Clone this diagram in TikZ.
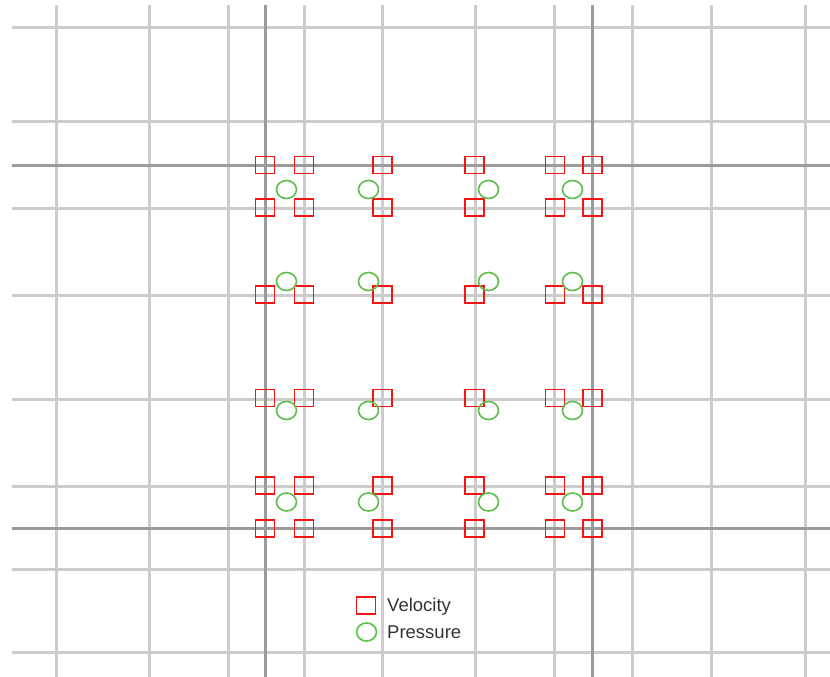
\documentclass[tikz,border=0pt]{standalone}
\usepackage{fontspec}
\setmainfont{Liberation Sans}
\usetikzlibrary{shapes.geometric}
\definecolor{myred}{RGB}{245,20,20}
\definecolor{mygreen}{RGB}{94,190,74}
\definecolor{lightgrid}{RGB}{204,204,204}
\definecolor{darkgrid}{RGB}{155,155,155}

\begin{document}
\begin{tikzpicture}[x=1pt,y=-1pt,
  gridline/.style={line width=3pt, lightgrid},
  mainline/.style={line width=3pt, darkgrid},
  vel/.style={draw=myred, line width=1.6pt, minimum width=19pt, minimum height=17pt, inner sep=0pt},
  pres/.style={draw=mygreen, ellipse, line width=1.6pt, minimum width=20pt, minimum height=18pt, inner sep=0pt},
  keytext/.style={anchor=base west, inner sep=0pt, text=black!80, font=\fontsize{18.5}{21}\selectfont}]
\useasboundingbox (0,0) rectangle (830,677);

%grid
\foreach \x in {56,149,228,304,382,475,554,632,711,805}
  \draw[gridline] (\x,5) -- (\x,677);
\foreach \y in {28,121,208,295,399,486,569,652}
  \draw[gridline] (12,\y) -- (830,\y);
\foreach \x in {265,592}
  \draw[mainline] (\x,5) -- (\x,677);
\foreach \y in {165,528}
  \draw[mainline] (12,\y) -- (830,\y);

%velocity points
\foreach \x [count=\i] in {265,304,382.5,474.5,555,592.5}
  \foreach \y [count=\j] in {165,207.5,294.5,398,485.5,528.5}
    \node[vel] (v\i\j) at (\x,\y) {};

%pressure points
\foreach \x [count=\i] in {286.5,368.5,488.5,572.5}
  \foreach \y [count=\j] in {189.5,281.5,410.5,502}
    \node[pres] (p\i\j) at (\x,\y) {};

%legend
\node[vel] (velkey) at (366,605.5) {};
\node[pres] (preskey) at (366.5,632) {};
\node[keytext] (veltext) at (387,611.5) {Velocity};
\node[keytext] (prestext) at (387,638.5) {Pressure};
\end{tikzpicture}
\end{document}
